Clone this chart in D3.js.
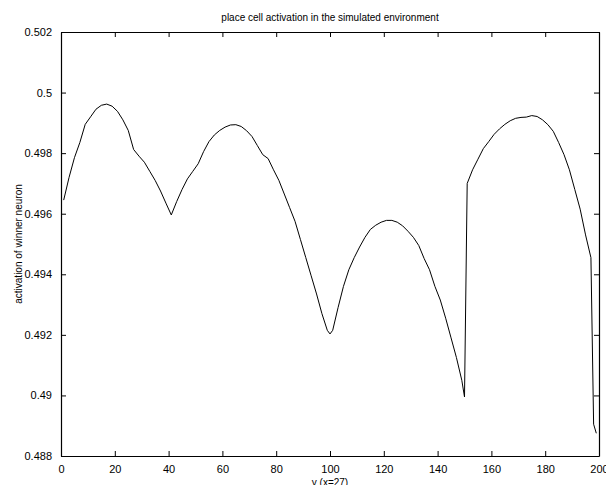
<!DOCTYPE html>
<html>
<head>
<meta charset="utf-8">
<script src="https://cdn.jsdelivr.net/npm/d3@7"></script>
<style>
  body { margin: 0; background: #fff; }
  svg text { font-family: "Liberation Sans", Arial, Helvetica, sans-serif; fill: #000; }
</style>
</head>
<body>
<svg id="chart"></svg>
<script>
// y position sampled along the track
var positions = [1,3,5,7,9,11,13,15,17,19,21,23,25,27,29,31,33,35,37,39,
  41,43,45,47,49,51,53,55,57,59,61,63,65,67,69,71,73,75,77,79,
  81,83,85,87,89,91,93,95,97,99,100,101,103,105,107,109,111,113,115,117,
  119,121,123,125,127,129,131,133,135,137,139,141,143,145,147,149,150,151,153,155,
  157,159,161,163,165,167,169,171,173,175,177,179,181,183,185,187,189,191,193,195,
  197,198,199];
// activation of the winner neuron at each position
var activation = [0.49645,0.4972,0.49785,0.49835,0.49895,0.49920,0.49945,0.49958,0.49962,0.49955,
  0.49938,0.49910,0.49875,0.49812,0.49790,0.49770,0.49740,0.49710,0.49675,0.49635,
  0.49596,0.49640,0.49680,0.49715,0.49740,0.49765,0.49805,0.49838,0.49860,0.49875,
  0.49886,0.49893,0.49894,0.49888,0.49874,0.49855,0.49825,0.49795,0.49782,0.49745,
  0.49710,0.49665,0.49620,0.49575,0.49515,0.49455,0.49395,0.49335,0.49270,0.49215,0.49203,
  0.49215,0.49290,0.49360,0.49415,0.49455,0.49490,0.49522,0.49548,0.49562,
  0.49572,0.49578,0.49578,0.49572,0.49560,0.49542,0.49522,0.49495,0.49452,0.49415,
  0.49360,0.49315,0.49255,0.49190,0.49125,0.49050,0.48995,0.49700,0.49745,0.49780,
  0.49815,0.49838,0.49862,0.49880,0.49895,0.49907,0.49915,0.49918,0.49919,0.49924,
  0.49921,0.49910,0.49894,0.49872,0.49835,0.49795,0.49745,0.49680,0.49615,0.49530,
  0.49455,0.48905,0.48875];

var xTicks = [0,20,40,60,80,100,120,140,160,180,200];
var yTicks = [0.488,0.49,0.492,0.494,0.496,0.498,0.5,0.502];

var W = 606, H = 485;
var margin = {top: 32, right: 7, bottom: 29, left: 61};
var width = W - margin.left - margin.right,
    height = H - margin.top - margin.bottom;

var svg = d3.select("#chart").attr("width", W).attr("height", H);
var g = svg.append("g").attr("transform", "translate(" + margin.left + "," + margin.top + ")");

var x = d3.scaleLinear().domain([0, 200]).range([0, width]);
var y = d3.scaleLinear().domain([0.488, 0.502]).range([height, 0]);

var fmtY = function(d){ return d3.format(".3~f")(d); };

// inward ticks on all four sides, matlab style box
function styleAxis(sel){
  sel.select(".domain").attr("stroke", "#000").attr("stroke-width", 1.2);
  sel.selectAll(".tick line").attr("stroke", "#000").attr("stroke-width", 1);
  sel.selectAll("text").style("font-size", "11px");
}

g.append("g").attr("transform", "translate(0," + height + ")")
  .call(d3.axisBottom(x).tickValues(xTicks).tickSizeInner(-5).tickSizeOuter(0).tickPadding(9))
  .call(styleAxis);
g.append("g")
  .call(d3.axisTop(x).tickValues(xTicks).tickSizeInner(-5).tickSizeOuter(0).tickFormat(""))
  .call(styleAxis);
g.append("g")
  .call(d3.axisLeft(y).tickValues(yTicks).tickSizeInner(-5).tickSizeOuter(0).tickPadding(9).tickFormat(fmtY))
  .call(styleAxis);
g.append("g").attr("transform", "translate(" + width + ",0)")
  .call(d3.axisRight(y).tickValues(yTicks).tickSizeInner(-5).tickSizeOuter(0).tickFormat(""))
  .call(styleAxis);

var line = d3.line()
  .x(function(d, i){ return x(positions[i]); })
  .y(function(d){ return y(d); });

g.append("path")
  .datum(activation)
  .attr("fill", "none")
  .attr("stroke", "#000")
  .attr("stroke-width", 1)
  .attr("d", line);

svg.append("text")
  .attr("x", margin.left + width / 2).attr("y", 21)
  .attr("text-anchor", "middle").style("font-size", "10px")
  .text("place cell activation in the simulated environment");

svg.append("text")
  .attr("x", margin.left + width / 2).attr("y", 486)
  .attr("text-anchor", "middle").style("font-size", "10px")
  .text("y (x=27)");

svg.append("text")
  .attr("transform", "translate(22," + (margin.top + height / 2) + ") rotate(-90)")
  .attr("text-anchor", "middle").style("font-size", "10px")
  .text("activation of winner neuron");
</script>
</body>
</html>
